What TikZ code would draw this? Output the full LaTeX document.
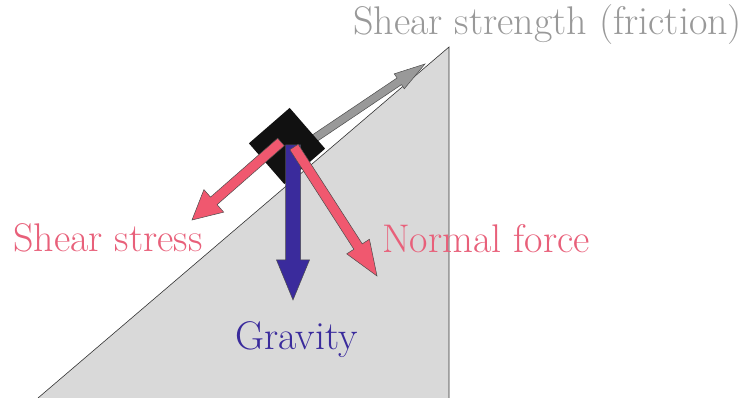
\documentclass[tikz,border=0pt]{standalone}
\usetikzlibrary{calc}
\definecolor{slopegray}{HTML}{D9D9D9}
\definecolor{frictiongray}{HTML}{999999}
\definecolor{forcepink}{HTML}{F0586F}
\definecolor{labelpink}{HTML}{E8607A}
\definecolor{gravityblue}{HTML}{3A2B9C}
\definecolor{blockblack}{HTML}{111111}

% fat force arrow: colour, tail, tip, shaft half width, head half width, head length
\newcommand{\forcearrow}[6]{%
 \coordinate (#3-base) at ($(#3)!#6!(#2)$);
 \filldraw[fill=#1,draw=black!70,line width=0.5pt]
 ($(#2)!#4!90:(#3)$) -- ($(#3-base)!#4!90:(#3)$) -- ($(#3-base)!#5!90:(#3)$) -- (#3)
 -- ($(#3-base)!#5!-90:(#3)$) -- ($(#3-base)!#4!-90:(#3)$) -- ($(#2)!#4!-90:(#3)$) -- cycle;
}

\begin{document}
\begin{tikzpicture}[
 x=1pt,y=1pt,
 forcelabel/.style={anchor=base west,inner sep=0pt,font=\fontsize{40}{48}\selectfont},
]
\useasboundingbox (0,0) rectangle (744,398);
% slope
\filldraw[fill=slopegray,draw=black!80,line width=0.6pt] (38,0) -- (449,351) -- (449,0);
% force end points
\coordinate (friction-tail) at (312,258);
\coordinate (friction-tip) at (425,334);
\coordinate (stress-tail) at (281,256);
\coordinate (stress-tip) at (192,178);
\coordinate (normal-tail) at (294,251);
\coordinate (normal-tip) at (377,122);
\coordinate (gravity-tail) at (293,253);
\coordinate (gravity-tip) at (293,98);
\forcearrow{frictiongray}{friction-tail}{friction-tip}{4pt}{9pt}{31pt}
% block
\fill[blockblack,rotate around={41:(287,252)}] (260,225) rectangle (314,279);
\forcearrow{gravityblue}{gravity-tail}{gravity-tip}{7.5pt}{16.5pt}{40pt}
\forcearrow{forcepink}{stress-tail}{stress-tip}{5pt}{15pt}{29pt}
\forcearrow{forcepink}{normal-tail}{normal-tip}{5pt}{13.5pt}{35pt}
% labels
\node[forcelabel,text=frictiongray] (friction) at (353,363) {Shear strength (friction)};
\node[forcelabel,text=labelpink] (stress) at (13,146) {Shear stress};
\node[forcelabel,text=labelpink] (normal) at (382,145) {Normal force};
\node[forcelabel,text=gravityblue] (gravity) at (235,48) {Gravity};
\end{tikzpicture}
\end{document}
